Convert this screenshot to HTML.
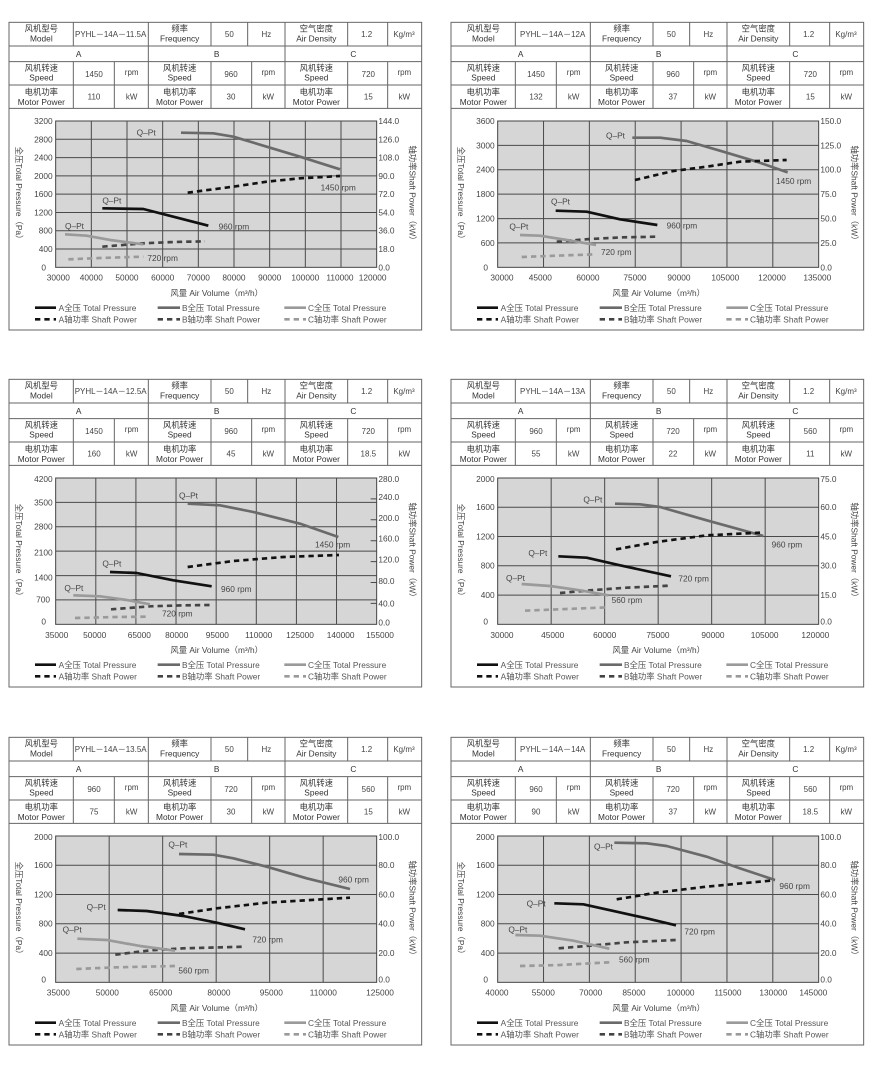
<!DOCTYPE html>
<html><head><meta charset="utf-8"><style>
html,body{margin:0;padding:0;background:#fff;}
svg{display:block;font-family:"Liberation Sans","Noto Sans CJK SC",sans-serif;}
.t{font-size:25px;fill:#333;text-anchor:middle;}
.v{font-size:24px;fill:#444;text-anchor:middle;}
.l{font-size:25px;fill:#444;text-anchor:end;}
.r{font-size:25px;fill:#444;text-anchor:start;}
.b{font-size:25px;fill:#444;text-anchor:middle;}
.a{font-size:25px;fill:#444;text-anchor:middle;}
.g{font-size:25px;fill:#555;text-anchor:start;}
.q{font-size:25px;fill:#444;}
.fr{fill:none;stroke:#666;stroke-width:3;}
.pl{fill:#d6d6d6;stroke:#444;stroke-width:3;}
.gr{stroke:#4a4a4a;stroke-width:3;fill:none;}
.s1{fill:none;stroke:#111;stroke-width:8;stroke-linejoin:round;}
.s2{fill:none;stroke:#6a6a6a;stroke-width:8;stroke-linejoin:round;}
.s3{fill:none;stroke:#9a9a9a;stroke-width:8;stroke-linejoin:round;}
.d1{fill:none;stroke:#111;stroke-width:8;stroke-dasharray:16 12;}
.d2{fill:none;stroke:#444;stroke-width:8;stroke-dasharray:16 12;}
.d3{fill:none;stroke:#9a9a9a;stroke-width:8;stroke-dasharray:16 12;}
</style></head><body>
<svg width="870" height="1078" viewBox="0 0 870 1078" xmlns="http://www.w3.org/2000/svg">
<defs>
<g id="frame">
<rect class="fr" x="27" y="22" width="1238" height="923"/>
<path class="fr" d="M27 93H1265M27 140H1265M27 210H1265M27 280H1265M220 22V93M445 22V140M633 22V93M743 22V93M855 22V140M1043 22V93M1163 22V93M220 140V280M343 140V280M445 140V280M633 140V280M755 140V280M855 140V280M1043 140V280M1163 140V280"/>
<rect class="pl" x="167" y="318" width="963" height="439"/>
<path class="s1" d="M105 878H168"/><path class="s2" d="M473 878H540"/><path class="s3" d="M853 878H918"/>
<path class="d1" d="M105 913H168"/><path class="d2" d="M473 913H540"/><path class="d3" d="M853 913H918"/>
</g>
</defs>

<!-- PANEL TEMPLATE TEXT repeated -->
<!-- Panel 1 -->
<g transform="translate(0,15) scale(0.33333)">
<use href="#frame"/>
<path class="gr" d="M274 318V757M381 318V757M488 318V757M595 318V757M702 318V757M809 318V757M916 318V757M1023 318V757M167 372.9H1130M167 427.75H1130M167 482.6H1130M167 537.5H1130M167 592.4H1130M167 647.25H1130M167 702.1H1130"/>
<text class="t" x="124" y="50">风机型号</text><text class="t" x="124" y="80">Model</text>
<text class="v" x="332" y="66">PYHL－14A－11.5A</text>
<text class="t" x="539" y="50">频率</text><text class="t" x="539" y="80">Frequency</text>
<text class="v" x="688" y="66">50</text><text class="v" x="799" y="66">Hz</text>
<text class="t" x="949" y="50">空气密度</text><text class="t" x="949" y="80">Air Density</text>
<text class="v" x="1100" y="66">1.2</text><text class="v" x="1212" y="66">Kg/m³</text>
<text class="t" x="236" y="126">A</text><text class="t" x="650" y="126">B</text><text class="t" x="1060" y="126">C</text>
<text class="t" x="124" y="168">风机转速</text><text class="t" x="124" y="197">Speed</text>
<text class="t" x="539" y="168">风机转速</text><text class="t" x="539" y="197">Speed</text>
<text class="t" x="949" y="168">风机转速</text><text class="t" x="949" y="197">Speed</text>
<text class="t" x="124" y="240">电机功率</text><text class="t" x="124" y="270">Motor Power</text>
<text class="t" x="539" y="240">电机功率</text><text class="t" x="539" y="270">Motor Power</text>
<text class="t" x="949" y="240">电机功率</text><text class="t" x="949" y="270">Motor Power</text>
<text class="v" x="395" y="180">rpm</text><text class="v" x="805" y="180">rpm</text><text class="v" x="1213" y="180">rpm</text>
<text class="v" x="395" y="254">kW</text><text class="v" x="805" y="254">kW</text><text class="v" x="1213" y="254">kW</text>
<text class="v" x="282" y="186">1450</text><text class="v" x="693" y="186">960</text><text class="v" x="1105" y="186">720</text>
<text class="v" x="282" y="254">110</text><text class="v" x="693" y="254">30</text><text class="v" x="1105" y="254">15</text>
<text class="a" transform="translate(48,540) rotate(90)">全压Total Pressure（Pa）</text>
<text class="a" transform="translate(1228,540) rotate(90)">轴功率Shaft Power（kW）</text>
<text class="a" x="650" y="843">风量 Air Volume（m³/h）</text>
<text class="g" x="176" y="888">A全压 Total Pressure</text><text class="g" x="546" y="888">B全压 Total Pressure</text><text class="g" x="924" y="888">C全压 Total Pressure</text>
<text class="g" x="176" y="922">A轴功率 Shaft Power</text><text class="g" x="546" y="922">B轴功率 Shaft Power</text><text class="g" x="924" y="922">C轴功率 Shaft Power</text>
<text class="l" x="158" y="327">3200</text><text class="l" x="158" y="382">2800</text><text class="l" x="158" y="437">2400</text><text class="l" x="158" y="492">2000</text><text class="l" x="158" y="546">1600</text><text class="l" x="158" y="601">1200</text><text class="l" x="158" y="656">800</text><text class="l" x="158" y="711">400</text><text class="l" x="138" y="766">0</text>
<text class="r" x="1135" y="327">144.0</text><text class="r" x="1135" y="382">126.0</text><text class="r" x="1135" y="437">108.0</text><text class="r" x="1135" y="492">90.0</text><text class="r" x="1135" y="546">72.0</text><text class="r" x="1135" y="601">54.0</text><text class="r" x="1135" y="656">36.0</text><text class="r" x="1135" y="711">18.0</text><text class="r" x="1135" y="766">0.0</text>
<text class="b" x="175" y="796">30000</text><text class="b" x="274" y="796">40000</text><text class="b" x="381" y="796">50000</text><text class="b" x="488" y="796">60000</text><text class="b" x="595" y="796">70000</text><text class="b" x="702" y="796">80000</text><text class="b" x="809" y="796">90000</text><text class="b" x="916" y="796">100000</text><text class="b" x="1020" y="796">110000</text><text class="b" x="1118" y="796">120000</text>
<polyline class="s2" points="543,353 640,355 700,365 800,395 900,425 1020,463"/>
<polyline class="d1" points="563,533 700,515 800,500 900,490 1020,483"/>
<polyline class="s1" points="307,580 430,582 520,605 625,632"/>
<polyline class="d2" points="307,695 430,685 520,681 615,679"/>
<polyline class="s3" points="195,658 260,662 330,675 430,688"/>
<polyline class="d3" points="205,733 300,729 430,725"/>
<text class="q" x="410" y="362">Q–Pt</text><text class="q" x="307" y="566">Q–Pt</text><text class="q" x="195" y="642">Q–Pt</text>
<text class="q" x="962" y="527">1450 rpm</text><text class="q" x="656" y="643">960 rpm</text><text class="q" x="442" y="738">720 rpm</text>
</g>

<!-- Panel 2 -->
<g transform="translate(442,15) scale(0.33333)">
<use href="#frame"/>
<path class="gr" d="M304.6 318V757M442.1 318V757M579.7 318V757M717.3 318V757M854.9 318V757M992.4 318V757M167 391.2H1130M167 464.3H1130M167 537.5H1130M167 610.7H1130M167 683.8H1130"/>
<text class="t" x="124" y="50">风机型号</text><text class="t" x="124" y="80">Model</text>
<text class="v" x="332" y="66">PYHL－14A－12A</text>
<text class="t" x="539" y="50">频率</text><text class="t" x="539" y="80">Frequency</text>
<text class="v" x="688" y="66">50</text><text class="v" x="799" y="66">Hz</text>
<text class="t" x="949" y="50">空气密度</text><text class="t" x="949" y="80">Air Density</text>
<text class="v" x="1100" y="66">1.2</text><text class="v" x="1212" y="66">Kg/m³</text>
<text class="t" x="236" y="126">A</text><text class="t" x="650" y="126">B</text><text class="t" x="1060" y="126">C</text>
<text class="t" x="124" y="168">风机转速</text><text class="t" x="124" y="197">Speed</text>
<text class="t" x="539" y="168">风机转速</text><text class="t" x="539" y="197">Speed</text>
<text class="t" x="949" y="168">风机转速</text><text class="t" x="949" y="197">Speed</text>
<text class="t" x="124" y="240">电机功率</text><text class="t" x="124" y="270">Motor Power</text>
<text class="t" x="539" y="240">电机功率</text><text class="t" x="539" y="270">Motor Power</text>
<text class="t" x="949" y="240">电机功率</text><text class="t" x="949" y="270">Motor Power</text>
<text class="v" x="395" y="180">rpm</text><text class="v" x="805" y="180">rpm</text><text class="v" x="1213" y="180">rpm</text>
<text class="v" x="395" y="254">kW</text><text class="v" x="805" y="254">kW</text><text class="v" x="1213" y="254">kW</text>
<text class="v" x="282" y="186">1450</text><text class="v" x="693" y="186">960</text><text class="v" x="1105" y="186">720</text>
<text class="v" x="282" y="254">132</text><text class="v" x="693" y="254">37</text><text class="v" x="1105" y="254">15</text>
<text class="a" transform="translate(48,540) rotate(90)">全压Total Pressure（Pa）</text>
<text class="a" transform="translate(1228,540) rotate(90)">轴功率Shaft Power（kW）</text>
<text class="a" x="650" y="843">风量 Air Volume（m³/h）</text>
<text class="g" x="176" y="888">A全压 Total Pressure</text><text class="g" x="546" y="888">B全压 Total Pressure</text><text class="g" x="924" y="888">C全压 Total Pressure</text>
<text class="g" x="176" y="922">A轴功率 Shaft Power</text><text class="g" x="546" y="922">B轴功率 Shaft Power</text><text class="g" x="924" y="922">C轴功率 Shaft Power</text>
<text class="l" x="158" y="327">3600</text><text class="l" x="158" y="400">3000</text><text class="l" x="158" y="473">2400</text><text class="l" x="158" y="546">1800</text><text class="l" x="158" y="620">1200</text><text class="l" x="158" y="693">600</text><text class="l" x="138" y="766">0</text>
<text class="r" x="1135" y="327">150.0</text><text class="r" x="1135" y="400">125.0</text><text class="r" x="1135" y="473">100.0</text><text class="r" x="1135" y="546">75.0</text><text class="r" x="1135" y="620">50.0</text><text class="r" x="1135" y="693">25.0</text><text class="r" x="1135" y="766">0.0</text>
<text class="b" x="180" y="796">30000</text><text class="b" x="295" y="796">45000</text><text class="b" x="438" y="796">60000</text><text class="b" x="579" y="796">75000</text><text class="b" x="711" y="796">90000</text><text class="b" x="850" y="796">105000</text><text class="b" x="990" y="796">120000</text><text class="b" x="1126" y="796">135000</text>
<g transform="translate(-6,0)">
<polyline class="s2" points="577,368 660,368 740,378 850,410 950,440 1043,472"/>
<polyline class="d1" points="585,495 700,468 800,455 900,440 1040,435"/>
<polyline class="s1" points="347,587 440,590 540,613 652,630"/>
<polyline class="d2" points="350,680 450,672 550,667 655,665"/>
<polyline class="s3" points="240,660 300,662 380,675 468,690"/>
<polyline class="d3" points="245,726 350,722 468,718"/>
<text class="q" x="498" y="370">Q–Pt</text><text class="q" x="333" y="568">Q–Pt</text><text class="q" x="208" y="644">Q–Pt</text>
<text class="q" x="1008" y="507">1450 rpm</text><text class="q" x="680" y="640">960 rpm</text><text class="q" x="483" y="720">720 rpm</text>
</g>
</g>

<!-- Panel 3 -->
<g transform="translate(0,372) scale(0.33333)">
<use href="#frame"/>
<path class="gr" d="M287.4 318V757M407.75 318V757M528.1 318V757M648.5 318V757M768.9 318V757M889.25 318V757M1009.6 318V757M167 391.2H1130M167 464.3H1130M167 537.5H1130M167 610.7H1130M167 683.8H1130M1112 380.7H1130M1112 443.4H1130M1112 506.1H1130M1112 568.9H1130M1112 631.6H1130M1112 694.3H1130"/>
<text class="t" x="124" y="50">风机型号</text><text class="t" x="124" y="80">Model</text>
<text class="v" x="332" y="66">PYHL－14A－12.5A</text>
<text class="t" x="539" y="50">频率</text><text class="t" x="539" y="80">Frequency</text>
<text class="v" x="688" y="66">50</text><text class="v" x="799" y="66">Hz</text>
<text class="t" x="949" y="50">空气密度</text><text class="t" x="949" y="80">Air Density</text>
<text class="v" x="1100" y="66">1.2</text><text class="v" x="1212" y="66">Kg/m³</text>
<text class="t" x="236" y="126">A</text><text class="t" x="650" y="126">B</text><text class="t" x="1060" y="126">C</text>
<text class="t" x="124" y="168">风机转速</text><text class="t" x="124" y="197">Speed</text>
<text class="t" x="539" y="168">风机转速</text><text class="t" x="539" y="197">Speed</text>
<text class="t" x="949" y="168">风机转速</text><text class="t" x="949" y="197">Speed</text>
<text class="t" x="124" y="240">电机功率</text><text class="t" x="124" y="270">Motor Power</text>
<text class="t" x="539" y="240">电机功率</text><text class="t" x="539" y="270">Motor Power</text>
<text class="t" x="949" y="240">电机功率</text><text class="t" x="949" y="270">Motor Power</text>
<text class="v" x="395" y="180">rpm</text><text class="v" x="805" y="180">rpm</text><text class="v" x="1213" y="180">rpm</text>
<text class="v" x="395" y="254">kW</text><text class="v" x="805" y="254">kW</text><text class="v" x="1213" y="254">kW</text>
<text class="v" x="282" y="186">1450</text><text class="v" x="693" y="186">960</text><text class="v" x="1105" y="186">720</text>
<text class="v" x="282" y="254">160</text><text class="v" x="693" y="254">45</text><text class="v" x="1105" y="254">18.5</text>
<text class="a" transform="translate(48,540) rotate(90)">全压Total Pressure（Pa）</text>
<text class="a" transform="translate(1228,540) rotate(90)">轴功率Shaft Power（kW）</text>
<text class="a" x="650" y="843">风量 Air Volume（m³/h）</text>
<text class="g" x="176" y="888">A全压 Total Pressure</text><text class="g" x="546" y="888">B全压 Total Pressure</text><text class="g" x="924" y="888">C全压 Total Pressure</text>
<text class="g" x="176" y="922">A轴功率 Shaft Power</text><text class="g" x="546" y="922">B轴功率 Shaft Power</text><text class="g" x="924" y="922">C轴功率 Shaft Power</text>
<text class="l" x="158" y="330">4200</text><text class="l" x="158" y="400">3500</text><text class="l" x="158" y="473">2800</text><text class="l" x="158" y="551">2100</text><text class="l" x="158" y="625">1400</text><text class="l" x="150" y="692">700</text><text class="l" x="138" y="757">0</text>
<text class="r" x="1135" y="330">280.0</text><text class="r" x="1135" y="384">240.0</text><text class="r" x="1135" y="447">200.0</text><text class="r" x="1135" y="509">160.0</text><text class="r" x="1135" y="572">120.0</text><text class="r" x="1135" y="636">80.0</text><text class="r" x="1135" y="703">40.0</text><text class="r" x="1135" y="760">0.0</text>
<text class="b" x="170" y="798">35000</text><text class="b" x="284" y="798">50000</text><text class="b" x="418" y="798">65000</text><text class="b" x="530" y="798">80000</text><text class="b" x="652" y="798">95000</text><text class="b" x="776" y="798">110000</text><text class="b" x="900" y="798">125000</text><text class="b" x="1022" y="798">140000</text><text class="b" x="1140" y="798">155000</text>
<polyline class="s2" points="563,395 660,400 760,420 900,455 1015,495"/>
<polyline class="d1" points="563,585 700,567 850,555 1017,549"/>
<polyline class="s1" points="330,600 410,603 520,625 635,643"/>
<polyline class="d2" points="333,712 450,703 550,700 630,699"/>
<polyline class="s3" points="220,670 300,673 380,684 450,697"/>
<polyline class="d3" points="225,738 350,735 445,734"/>
<text class="q" x="537" y="380">Q–Pt</text><text class="q" x="307" y="583">Q–Pt</text><text class="q" x="193" y="657">Q–Pt</text>
<text class="q" x="945" y="527">1450 rpm</text><text class="q" x="663" y="660">960 rpm</text><text class="q" x="486" y="734">720 rpm</text>
</g>

<!-- Panel 4 -->
<g transform="translate(442,372) scale(0.33333)">
<use href="#frame"/>
<path class="gr" d="M327.5 318V757M488 318V757M648.5 318V757M809 318V757M969.5 318V757M167 405.8H1130M167 493.6H1130M167 581.4H1130M167 669.2H1130"/>
<text class="t" x="124" y="50">风机型号</text><text class="t" x="124" y="80">Model</text>
<text class="v" x="332" y="66">PYHL－14A－13A</text>
<text class="t" x="539" y="50">频率</text><text class="t" x="539" y="80">Frequency</text>
<text class="v" x="688" y="66">50</text><text class="v" x="799" y="66">Hz</text>
<text class="t" x="949" y="50">空气密度</text><text class="t" x="949" y="80">Air Density</text>
<text class="v" x="1100" y="66">1.2</text><text class="v" x="1212" y="66">Kg/m³</text>
<text class="t" x="236" y="126">A</text><text class="t" x="650" y="126">B</text><text class="t" x="1060" y="126">C</text>
<text class="t" x="124" y="168">风机转速</text><text class="t" x="124" y="197">Speed</text>
<text class="t" x="539" y="168">风机转速</text><text class="t" x="539" y="197">Speed</text>
<text class="t" x="949" y="168">风机转速</text><text class="t" x="949" y="197">Speed</text>
<text class="t" x="124" y="240">电机功率</text><text class="t" x="124" y="270">Motor Power</text>
<text class="t" x="539" y="240">电机功率</text><text class="t" x="539" y="270">Motor Power</text>
<text class="t" x="949" y="240">电机功率</text><text class="t" x="949" y="270">Motor Power</text>
<text class="v" x="395" y="180">rpm</text><text class="v" x="805" y="180">rpm</text><text class="v" x="1213" y="180">rpm</text>
<text class="v" x="395" y="254">kW</text><text class="v" x="805" y="254">kW</text><text class="v" x="1213" y="254">kW</text>
<text class="v" x="282" y="186">960</text><text class="v" x="693" y="186">720</text><text class="v" x="1105" y="186">560</text>
<text class="v" x="282" y="254">55</text><text class="v" x="693" y="254">22</text><text class="v" x="1105" y="254">11</text>
<text class="a" transform="translate(48,540) rotate(90)">全压Total Pressure（Pa）</text>
<text class="a" transform="translate(1228,540) rotate(90)">轴功率Shaft Power（kW）</text>
<text class="a" x="650" y="843">风量 Air Volume（m³/h）</text>
<text class="g" x="176" y="888">A全压 Total Pressure</text><text class="g" x="546" y="888">B全压 Total Pressure</text><text class="g" x="924" y="888">C全压 Total Pressure</text>
<text class="g" x="176" y="922">A轴功率 Shaft Power</text><text class="g" x="546" y="922">B轴功率 Shaft Power</text><text class="g" x="924" y="922">C轴功率 Shaft Power</text>
<text class="l" x="158" y="330">2000</text><text class="l" x="158" y="414">1600</text><text class="l" x="158" y="502">1200</text><text class="l" x="158" y="590">800</text><text class="l" x="158" y="678">400</text><text class="l" x="138" y="757">0</text>
<text class="r" x="1135" y="330">75.0</text><text class="r" x="1135" y="414">60.0</text><text class="r" x="1135" y="502">45.0</text><text class="r" x="1135" y="590">30.0</text><text class="r" x="1135" y="678">15.0</text><text class="r" x="1135" y="757">0.0</text>
<text class="b" x="180" y="798">30000</text><text class="b" x="332" y="798">45000</text><text class="b" x="488" y="798">60000</text><text class="b" x="648" y="798">75000</text><text class="b" x="813" y="798">90000</text><text class="b" x="968" y="798">105000</text><text class="b" x="1120" y="798">120000</text>
<g transform="translate(-6,0)">
<polyline class="s2" points="525,395 600,397 660,405 800,445 970,492"/>
<polyline class="d1" points="528,532 650,510 800,490 960,482"/>
<polyline class="s1" points="355,553 440,557 540,580 693,613"/>
<polyline class="d2" points="360,663 450,655 560,647 690,641"/>
<polyline class="s3" points="245,636 330,642 420,655 505,670"/>
<polyline class="d3" points="255,716 380,711 505,706"/>
<text class="q" x="430" y="392">Q–Pt</text><text class="q" x="265" y="552">Q–Pt</text><text class="q" x="198" y="627">Q–Pt</text>
<text class="q" x="995" y="527">960 rpm</text><text class="q" x="715" y="629">720 rpm</text><text class="q" x="515" y="693">560 rpm</text>
</g>
</g>

<!-- Panel 5 -->
<g transform="translate(0,730) scale(0.33333)">
<use href="#frame"/>
<path class="gr" d="M327.5 318V757M488 318V757M648.5 318V757M809 318V757M969.5 318V757M167 405.8H1130M167 493.6H1130M167 581.4H1130M167 669.2H1130"/>
<text class="t" x="124" y="50">风机型号</text><text class="t" x="124" y="80">Model</text>
<text class="v" x="332" y="66">PYHL－14A－13.5A</text>
<text class="t" x="539" y="50">频率</text><text class="t" x="539" y="80">Frequency</text>
<text class="v" x="688" y="66">50</text><text class="v" x="799" y="66">Hz</text>
<text class="t" x="949" y="50">空气密度</text><text class="t" x="949" y="80">Air Density</text>
<text class="v" x="1100" y="66">1.2</text><text class="v" x="1212" y="66">Kg/m³</text>
<text class="t" x="236" y="126">A</text><text class="t" x="650" y="126">B</text><text class="t" x="1060" y="126">C</text>
<text class="t" x="124" y="168">风机转速</text><text class="t" x="124" y="197">Speed</text>
<text class="t" x="539" y="168">风机转速</text><text class="t" x="539" y="197">Speed</text>
<text class="t" x="949" y="168">风机转速</text><text class="t" x="949" y="197">Speed</text>
<text class="t" x="124" y="240">电机功率</text><text class="t" x="124" y="270">Motor Power</text>
<text class="t" x="539" y="240">电机功率</text><text class="t" x="539" y="270">Motor Power</text>
<text class="t" x="949" y="240">电机功率</text><text class="t" x="949" y="270">Motor Power</text>
<text class="v" x="395" y="180">rpm</text><text class="v" x="805" y="180">rpm</text><text class="v" x="1213" y="180">rpm</text>
<text class="v" x="395" y="254">kW</text><text class="v" x="805" y="254">kW</text><text class="v" x="1213" y="254">kW</text>
<text class="v" x="282" y="186">960</text><text class="v" x="693" y="186">720</text><text class="v" x="1105" y="186">560</text>
<text class="v" x="282" y="254">75</text><text class="v" x="693" y="254">30</text><text class="v" x="1105" y="254">15</text>
<text class="a" transform="translate(48,540) rotate(90)">全压Total Pressure（Pa）</text>
<text class="a" transform="translate(1228,540) rotate(90)">轴功率Shaft Power（kW）</text>
<text class="a" x="650" y="843">风量 Air Volume（m³/h）</text>
<text class="g" x="176" y="888">A全压 Total Pressure</text><text class="g" x="546" y="888">B全压 Total Pressure</text><text class="g" x="924" y="888">C全压 Total Pressure</text>
<text class="g" x="176" y="922">A轴功率 Shaft Power</text><text class="g" x="546" y="922">B轴功率 Shaft Power</text><text class="g" x="924" y="922">C轴功率 Shaft Power</text>
<text class="l" x="158" y="330">2000</text><text class="l" x="158" y="414">1600</text><text class="l" x="158" y="502">1200</text><text class="l" x="158" y="590">800</text><text class="l" x="158" y="678">400</text><text class="l" x="138" y="757">0</text>
<text class="r" x="1135" y="330">100.0</text><text class="r" x="1135" y="414">80.0</text><text class="r" x="1135" y="502">60.0</text><text class="r" x="1135" y="590">40.0</text><text class="r" x="1135" y="678">20.0</text><text class="r" x="1135" y="757">0.0</text>
<text class="b" x="175" y="796">35000</text><text class="b" x="322" y="796">50000</text><text class="b" x="482" y="796">65000</text><text class="b" x="657" y="796">80000</text><text class="b" x="814" y="796">95000</text><text class="b" x="970" y="796">110000</text><text class="b" x="1140" y="796">125000</text>
<polyline class="s2" points="537,372 640,374 700,385 800,410 920,445 1050,477"/>
<polyline class="d1" points="537,552 650,535 800,518 1050,503"/>
<polyline class="s1" points="353,540 440,543 550,558 650,578 735,598"/>
<polyline class="d2" points="346,674 450,661 550,655 735,650"/>
<polyline class="s3" points="232,626 320,630 420,648 525,662"/>
<polyline class="d3" points="229,717 350,712 525,708"/>
<text class="q" x="505" y="352">Q–Pt</text><text class="q" x="260" y="540">Q–Pt</text><text class="q" x="188" y="607">Q–Pt</text>
<text class="q" x="1015" y="457">960 rpm</text><text class="q" x="757" y="637">720 rpm</text><text class="q" x="535" y="730">560 rpm</text>
</g>

<!-- Panel 6 -->
<g transform="translate(442,730) scale(0.33333)">
<use href="#frame"/>
<path class="gr" d="M304.6 318V757M442.1 318V757M579.7 318V757M717.3 318V757M854.9 318V757M992.4 318V757M167 405.8H1130M167 493.6H1130M167 581.4H1130M167 669.2H1130"/>
<text class="t" x="124" y="50">风机型号</text><text class="t" x="124" y="80">Model</text>
<text class="v" x="332" y="66">PYHL－14A－14A</text>
<text class="t" x="539" y="50">频率</text><text class="t" x="539" y="80">Frequency</text>
<text class="v" x="688" y="66">50</text><text class="v" x="799" y="66">Hz</text>
<text class="t" x="949" y="50">空气密度</text><text class="t" x="949" y="80">Air Density</text>
<text class="v" x="1100" y="66">1.2</text><text class="v" x="1212" y="66">Kg/m³</text>
<text class="t" x="236" y="126">A</text><text class="t" x="650" y="126">B</text><text class="t" x="1060" y="126">C</text>
<text class="t" x="124" y="168">风机转速</text><text class="t" x="124" y="197">Speed</text>
<text class="t" x="539" y="168">风机转速</text><text class="t" x="539" y="197">Speed</text>
<text class="t" x="949" y="168">风机转速</text><text class="t" x="949" y="197">Speed</text>
<text class="t" x="124" y="240">电机功率</text><text class="t" x="124" y="270">Motor Power</text>
<text class="t" x="539" y="240">电机功率</text><text class="t" x="539" y="270">Motor Power</text>
<text class="t" x="949" y="240">电机功率</text><text class="t" x="949" y="270">Motor Power</text>
<text class="v" x="395" y="180">rpm</text><text class="v" x="805" y="180">rpm</text><text class="v" x="1213" y="180">rpm</text>
<text class="v" x="395" y="254">kW</text><text class="v" x="805" y="254">kW</text><text class="v" x="1213" y="254">kW</text>
<text class="v" x="282" y="186">960</text><text class="v" x="693" y="186">720</text><text class="v" x="1105" y="186">560</text>
<text class="v" x="282" y="254">90</text><text class="v" x="693" y="254">37</text><text class="v" x="1105" y="254">18.5</text>
<text class="a" transform="translate(48,540) rotate(90)">全压Total Pressure（Pa）</text>
<text class="a" transform="translate(1228,540) rotate(90)">轴功率Shaft Power（kW）</text>
<text class="a" x="650" y="843">风量 Air Volume（m³/h）</text>
<text class="g" x="176" y="888">A全压 Total Pressure</text><text class="g" x="546" y="888">B全压 Total Pressure</text><text class="g" x="924" y="888">C全压 Total Pressure</text>
<text class="g" x="176" y="922">A轴功率 Shaft Power</text><text class="g" x="546" y="922">B轴功率 Shaft Power</text><text class="g" x="924" y="922">C轴功率 Shaft Power</text>
<text class="l" x="158" y="330">2000</text><text class="l" x="158" y="414">1600</text><text class="l" x="158" y="502">1200</text><text class="l" x="158" y="590">800</text><text class="l" x="158" y="678">400</text><text class="l" x="138" y="757">0</text>
<text class="r" x="1135" y="330">100.0</text><text class="r" x="1135" y="414">80.0</text><text class="r" x="1135" y="502">60.0</text><text class="r" x="1135" y="590">40.0</text><text class="r" x="1135" y="678">20.0</text><text class="r" x="1135" y="757">0.0</text>
<text class="b" x="165" y="796">40000</text><text class="b" x="304" y="796">55000</text><text class="b" x="446" y="796">70000</text><text class="b" x="576" y="796">85000</text><text class="b" x="716" y="796">100000</text><text class="b" x="858" y="796">115000</text><text class="b" x="994" y="796">130000</text><text class="b" x="1114" y="796">145000</text>
<g transform="translate(-6,0)">
<polyline class="s2" points="523,338 620,340 680,348 800,380 900,415 1005,450"/>
<polyline class="d1" points="530,508 650,488 800,470 1003,451"/>
<polyline class="s1" points="343,520 430,523 530,545 620,565 708,586"/>
<polyline class="d2" points="356,655 450,647 560,637 708,630"/>
<polyline class="s3" points="226,615 300,617 400,632 508,656"/>
<polyline class="d3" points="240,708 360,705 508,697"/>
<text class="q" x="462" y="359">Q–Pt</text><text class="q" x="260" y="529">Q–Pt</text><text class="q" x="205" y="607">Q–Pt</text>
<text class="q" x="1018" y="477">960 rpm</text><text class="q" x="733" y="613">720 rpm</text><text class="q" x="537" y="697">560 rpm</text>
</g>
</g>
</svg>
</body></html>
